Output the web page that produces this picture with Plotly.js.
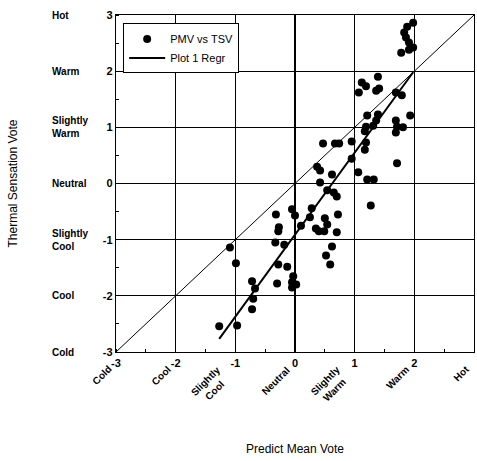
<!DOCTYPE html>
<html>
<head>
<meta charset="utf-8">
<script src="https://cdn.plot.ly/plotly-3.0.1.min.js"></script>
<style>html,body{margin:0;padding:0;background:#fff;}#chart{width:477px;height:461px;}</style>
</head>
<body>
<div id="chart"></div>
<script>
// Predicted Mean Vote (x) vs Thermal Sensation Vote (y)
const pmv = [-1.27,-0.97,-1.09,-0.99,-0.72,-0.67,-0.70,-0.72,-0.30,-0.28,-0.13,-0.03,-0.05,0.02,-0.05,
  -0.33,-0.18,-0.27,-0.28,-0.32,-0.05,0.00,0.10,0.28,0.25,0.35,0.40,0.49,0.50,0.54,0.72,0.70,0.62,0.52,0.59,
  0.42,0.54,0.65,0.70,0.37,0.42,0.62,1.06,1.21,1.32,1.27,1.71,0.95,1.17,1.19,0.95,0.47,0.67,0.74,
  1.17,1.19,1.31,1.36,1.39,1.21,1.69,1.71,1.81,1.69,1.93,1.39,1.12,1.19,1.07,1.36,1.41,1.69,1.79,
  1.98,1.88,1.83,1.86,1.91,1.98,1.91,1.78];
const tsv = [-2.54,-2.53,-1.14,-1.42,-1.74,-1.87,-2.05,-2.24,-1.78,-1.44,-1.48,-1.65,-1.76,-1.80,-1.85,
  -1.05,-1.09,-0.78,-0.85,-0.55,-0.46,-0.57,-0.75,-0.44,-0.60,-0.80,-0.85,-0.85,-0.62,-0.73,-0.55,-0.87,-1.12,-1.28,-1.44,
  0.02,-0.12,-0.16,-0.23,0.30,0.23,0.16,0.20,0.07,0.07,-0.39,0.36,0.44,0.60,0.73,0.75,0.71,0.71,0.71,
  0.93,1.01,1.03,1.12,1.23,1.21,1.12,1.01,1.00,0.91,1.21,1.90,1.80,1.73,1.62,1.65,1.69,1.62,1.57,
  2.86,2.79,2.69,2.60,2.51,2.42,2.38,2.33];
const tickValues = [-3,-2,-1,0,1,2,3];
const sensationLabels = ["Cold","Cool","Slightly<br>Cool","Neutral","Slightly<br>Warm","Warm","Hot"];
const diagLine = [-3, 3];
const seriesNames = ["PMV vs TSV", "Plot 1 Regr"];

// least-squares regression of TSV on PMV
const n = pmv.length;
const mx = pmv.reduce((a,b)=>a+b,0)/n, my = tsv.reduce((a,b)=>a+b,0)/n;
let sxy=0, sxx=0;
for (let i=0;i<n;i++){ sxy += (pmv[i]-mx)*(tsv[i]-my); sxx += (pmv[i]-mx)**2; }
const slope = sxy/sxx, icpt = my - slope*mx;
const regX = [Math.min(...pmv), Math.max(...pmv)];
const regY = regX.map(v => icpt + slope*v);

const FONT = "Liberation Sans, Arial, sans-serif";
const traces = [
  {x: diagLine, y: diagLine, mode:'lines', line:{color:'#000', width:1}, showlegend:false, hoverinfo:'skip'},
  {x: pmv, y: tsv, mode:'markers', name: seriesNames[0], marker:{color:'#000', size:8}},
  {x: regX, y: regY, mode:'lines', name: seriesNames[1], line:{color:'#000', width:2}}
];

const annotations = [];
// y category labels
tickValues.forEach((v,i)=>{
  annotations.push({xref:'paper', yref:'y', x:0, y:v, xshift:-66, xanchor:'left', yanchor:'middle',
    text:'<b>'+sensationLabels[i]+'</b>', align:'left', showarrow:false,
    font:{family:FONT, size:10, color:'#000'}});
});
// x category labels (rotated)
tickValues.forEach((v,i)=>{
  annotations.push({xref:'x', yref:'paper', x:v, y:0, yshift:-9, xanchor:'right', yanchor:'top',
    text:'<b>'+sensationLabels[i]+'</b>', align:'center', showarrow:false, textangle:-45,
    font:{family:FONT, size:10, color:'#000'}});
});

const axisCommon = {
  range:[-3,3], tickvals: tickValues, ticktext: tickValues.map(String),
  showgrid:true, gridcolor:'#000', gridwidth:1.2, zeroline:false,
  showline:true, linecolor:'#000', linewidth:1.3, mirror:true,
  ticks:'', tickfont:{family:FONT, size:11, color:'#000', weight:'bold'},
  minor:{dtick:0.5, ticks:'inside', ticklen:3, tickcolor:'#000', showgrid:false}
};

const layout = {
  width:477, height:461,
  margin:{l:116, r:3, t:15, b:109},
  paper_bgcolor:'#fff', plot_bgcolor:'#fff',
  showlegend:true,
  legend:{x:0.02, y:0.975, xanchor:'left', yanchor:'top', bgcolor:'#fff', bordercolor:'#000', borderwidth:1,
    font:{family:FONT, size:11, color:'#000'}, tracegroupgap:0, itemwidth:36},
  xaxis: Object.assign({}, axisCommon, {title:{text:'Predict Mean Vote', font:{family:FONT, size:12, color:'#000'}, standoff:77}, automargin:false}),
  yaxis: Object.assign({}, axisCommon, {title:{text:'Thermal Sensation Vote', font:{family:FONT, size:12, color:'#000'}, standoff:82}, automargin:false}),
  annotations: annotations
};

Plotly.newPlot('chart', traces, layout, {staticPlot:true, displayModeBar:false});
</script>
</body>
</html>
